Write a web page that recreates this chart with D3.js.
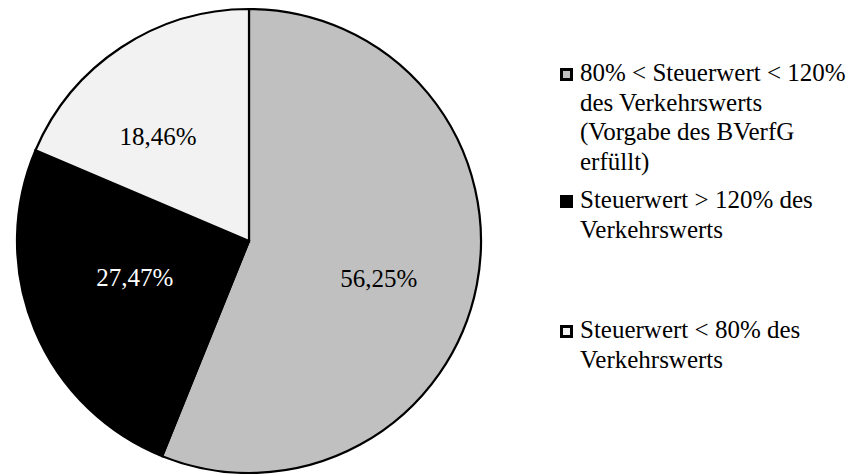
<!DOCTYPE html>
<html>
<head>
<meta charset="utf-8">
<script src="https://d3js.org/d3.v7.min.js"></script>
<style>
  html, body { margin: 0; padding: 0; background: #fff; }
  svg { display: block; font-family: "Liberation Serif", "Times New Roman", serif; }
</style>
</head>
<body>
<div id="chart"></div>
<script>
'use strict';

// slice shares as drawn (clockwise from 12 o'clock)
const categories = ['mid', 'high', 'low'];
const shares = [56.1, 25.3, 18.6];
// percentages printed on the slices
const sliceLabels = ['56,25%', '27,47%', '18,46%'];
// legend text, one array of lines per entry
const legendLines = [
  ['80% < Steuerwert < 120%', 'des Verkehrswerts', '(Vorgabe des BVerfG', 'erfüllt)'],
  ['Steuerwert > 120% des', 'Verkehrswerts'],
  ['Steuerwert < 80% des', 'Verkehrswerts']
];

(function() {
  const width = 854, height = 474;
  const cx = 249, cy = 241, radius = 232;

  const color = d3.scaleOrdinal()
    .domain(categories)
    .range(['#c0c0c0', '#000000', '#f2f2f2']);
  const labelColor = d3.scaleOrdinal()
    .domain(categories)
    .range(['#000', '#fff', '#000']);

  const svg = d3.select('#chart')
    .append('svg')
    .attr('width', width)
    .attr('height', height);

  const data = categories.map((c, i) => ({ key: c, value: shares[i], label: sliceLabels[i] }));

  const pie = d3.pie().sort(null).value(d => d.value);
  const arc = d3.arc().innerRadius(0).outerRadius(radius);
  const labelArc = d3.arc().innerRadius(0).outerRadius(radius * 1.14);

  const g = svg.append('g').attr('transform', `translate(${cx},${cy})`);
  const arcs = pie(data);

  g.selectAll('path.slice')
    .data(arcs)
    .enter()
    .append('path')
    .attr('class', 'slice')
    .attr('d', arc)
    .attr('fill', d => color(d.data.key))
    .attr('stroke', '#000')
    .attr('stroke-width', 2.2)
    .attr('stroke-linejoin', 'miter');

  // label placement: centroid of an enlarged arc, nudged per slice
  const nudge = { mid: [0, 12], high: [8, -14], low: [-18, 6] };
  g.selectAll('text.pct')
    .data(arcs)
    .enter()
    .append('text')
    .attr('class', 'pct')
    .attr('x', d => labelArc.centroid(d)[0] + nudge[d.data.key][0])
    .attr('y', d => labelArc.centroid(d)[1] + nudge[d.data.key][1])
    .attr('text-anchor', 'middle')
    .attr('dy', '0.35em')
    .attr('fill', d => labelColor(d.data.key))
    .style('font-size', '25px')
    .text(d => d.data.label);

  // legend
  const legendX = 560;
  const legendY = d3.scaleOrdinal().domain(categories).range([81, 208, 338]);
  const lineHeight = 29.5;

  const items = svg.selectAll('g.legend')
    .data(data)
    .enter()
    .append('g')
    .attr('class', 'legend')
    .attr('transform', d => `translate(${legendX},${legendY(d.key)})`);

  items.append('rect')
    .attr('x', 1.5)
    .attr('y', -11.5)
    .attr('width', 10)
    .attr('height', 10)
    .attr('fill', d => color(d.key))
    .attr('stroke', '#000')
    .attr('stroke-width', 3);

  items.each(function(d, i) {
    const t = d3.select(this).append('text')
      .attr('x', 20)
      .attr('y', 0)
      .attr('fill', '#000')
      .style('font-size', '25px');
    legendLines[i].forEach((line, j) => {
      t.append('tspan')
        .attr('x', 20)
        .attr('y', j * lineHeight)
        .text(line);
    });
  });
})();
</script>
</body>
</html>
